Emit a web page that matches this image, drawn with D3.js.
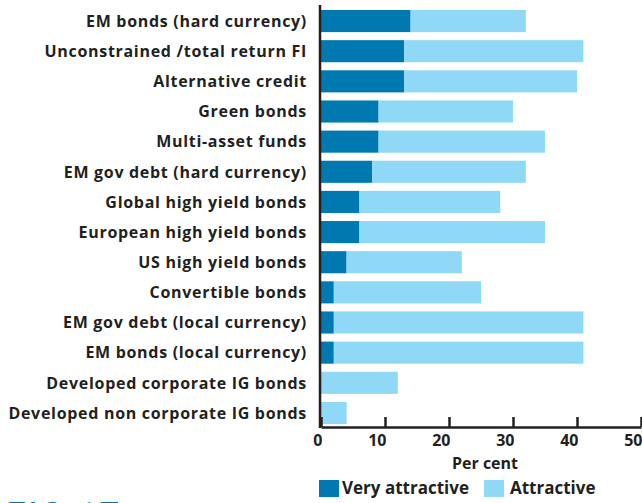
<!DOCTYPE html>
<html>
<head>
<meta charset="utf-8">
<script src="https://cdn.jsdelivr.net/npm/d3@7"></script>
<style>
  html, body { margin: 0; padding: 0; background: #fff; }
  svg { display: block; font-family: "Open Sans", Roboto, sans-serif; }
</style>
</head>
<body>
<svg id="chart" width="642" height="503"></svg>
<script>
// Asset classes, top to bottom
const categories = [
  "EM bonds (hard currency)",
  "Unconstrained /total return FI",
  "Alternative credit",
  "Green bonds",
  "Multi-asset funds",
  "EM gov debt (hard currency)",
  "Global high yield bonds",
  "European high yield bonds",
  "US high yield bonds",
  "Convertible bonds",
  "EM gov debt (local currency)",
  "EM bonds (local currency)",
  "Developed corporate IG bonds",
  "Developed non corporate IG bonds"
];
// Share of respondents, per cent
const veryAttractive = [14, 13, 13, 9, 9, 8, 6, 6, 4, 2, 2, 2, 0, 0];
const attractive     = [18, 28, 27, 21, 26, 24, 22, 29, 18, 23, 39, 39, 12, 4];
const seriesNames = ["Very attractive", "Attractive"];
const xTicks = [0, 10, 20, 30, 40, 50];

const colors = ["#0079b0", "#8fd8f6"];
const ink = "#231f20";

const svg = d3.select("#chart");

const x = d3.scaleLinear().domain([0, 50]).range([321, 641]);
const y = d3.scaleBand().domain(categories).range([6, 428])
  .paddingInner(0.267).paddingOuter(0.133);

const rows = categories.map((c, i) => ({
  cat: c, v: [veryAttractive[i], attractive[i]]
}));

// Stacked bars
const stack = d3.stack().keys([0, 1]).value((d, k) => d.v[k]);
const layers = stack(rows);

svg.append("g").selectAll("g")
  .data(layers)
  .join("g")
  .attr("fill", (d, i) => colors[i])
  .selectAll("rect")
  .data(d => d)
  .join("rect")
  .attr("x", d => x(d[0]))
  .attr("y", d => y(d.data.cat))
  .attr("width", d => x(d[1]) - x(d[0]))
  .attr("height", y.bandwidth());

// Category labels
svg.append("g").selectAll("text")
  .data(categories)
  .join("text")
  .attr("x", 307)
  .attr("y", d => y(d) + y.bandwidth() / 2)
  .attr("dy", "0.36em")
  .attr("text-anchor", "end")
  .attr("font-size", 16)
  .attr("font-weight", 700)
  .attr("letter-spacing", 0.7)
  .attr("fill", ink)
  .text(d => d);

// Bottom axis with inward ticks, labels right-aligned at each tick
const axisY = 427;
const xAxis = svg.append("g").attr("transform", `translate(0,${axisY})`)
  .call(d3.axisBottom(x).tickValues(xTicks).tickSize(-10).tickSizeOuter(0).tickPadding(0));
xAxis.select(".domain").attr("stroke", ink).attr("stroke-width", 2.5);
xAxis.selectAll(".tick line").attr("stroke", ink).attr("stroke-width", 2.5);
xAxis.selectAll(".tick text")
  .attr("text-anchor", "end")
  .attr("dx", 1)
  .attr("y", 19)
  .attr("dy", 0)
  .attr("font-size", 16)
  .attr("font-weight", 700)
  .attr("font-family", "'Open Sans', sans-serif")
  .attr("fill", ink);

// Vertical baseline
svg.append("line")
  .attr("x1", x(0) - 1).attr("x2", x(0) - 1)
  .attr("y1", 5).attr("y2", axisY + 1)
  .attr("stroke", ink).attr("stroke-width", 2.5);

// Axis title
svg.append("text")
  .attr("x", 485).attr("y", 469)
  .attr("text-anchor", "middle")
  .attr("font-size", 16).attr("font-weight", 700)
  .attr("fill", ink)
  .text("Per cent");

// Legend
const legendItems = [
  { name: seriesNames[0], color: colors[0], x: 319 },
  { name: seriesNames[1], color: colors[1], x: 484 }
];
const lg = svg.append("g").selectAll("g").data(legendItems).join("g")
  .attr("transform", d => `translate(${d.x},480)`);
lg.append("rect").attr("width", 20).attr("height", 17).attr("fill", d => d.color);
lg.append("text")
  .attr("x", d => d.x === 319 ? 23 : 26).attr("y", 13.5)
  .attr("font-size", 17).attr("font-weight", 700)
  .attr("fill", ink)
  .text(d => d.name);

// Figure number at the foot, running off the bottom edge
svg.append("text")
  .attr("x", 6).attr("y", 528)
  .attr("font-size", 36).attr("font-weight", 400)
  .attr("font-family", "Roboto, sans-serif")
  .attr("letter-spacing", 2)
  .attr("fill", "#0079b0")
  .text("FIG 17");
</script>
</body>
</html>
